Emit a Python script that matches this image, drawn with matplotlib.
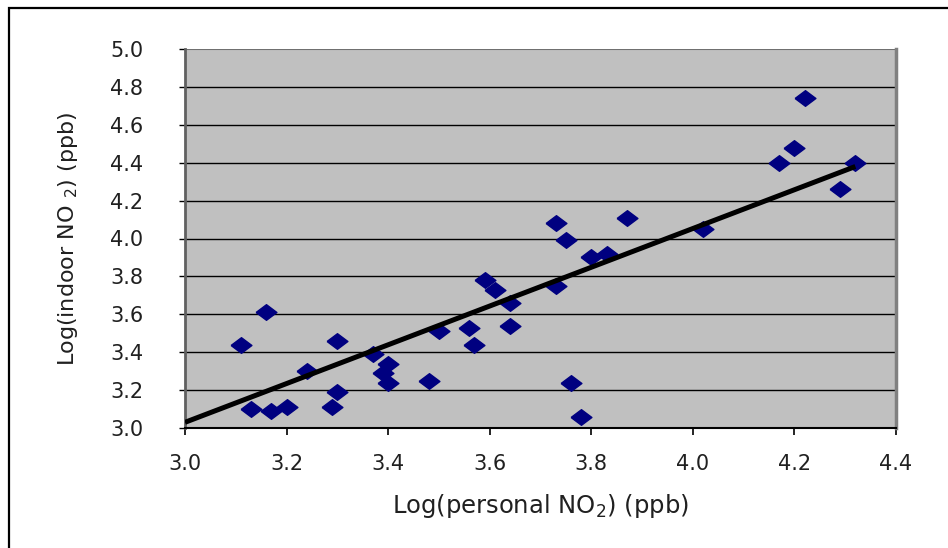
import numpy as np
import matplotlib.pyplot as plt
from matplotlib.patches import Rectangle

# values
personal = [3.11, 3.13, 3.16, 3.17, 3.20, 3.24, 3.30, 3.29, 3.30, 3.37,
            3.39, 3.40, 3.40, 3.48, 3.50, 3.56, 3.57, 3.59, 3.61, 3.64,
            3.64, 3.73, 3.73, 3.75, 3.76, 3.78, 3.80, 3.83, 3.87, 4.02,
            4.17, 4.20, 4.22, 4.29, 4.32]
indoor = [3.44, 3.10, 3.61, 3.09, 3.11, 3.30, 3.46, 3.11, 3.19, 3.39,
          3.29, 3.34, 3.24, 3.25, 3.51, 3.53, 3.44, 3.78, 3.73, 3.66,
          3.54, 4.08, 3.75, 3.99, 3.24, 3.06, 3.90, 3.92, 4.11, 4.05,
          4.40, 4.48, 4.74, 4.26, 4.40]
trend_x = [3.0, 4.32]
trend_y = [3.03, 4.38]

xticks = [3.0, 3.2, 3.4, 3.6, 3.8, 4.0, 4.2, 4.4]
yticks = [3.0, 3.2, 3.4, 3.6, 3.8, 4.0, 4.2, 4.4, 4.6, 4.8, 5.0]

plt.rcParams['font.family'] = ['DejaVu Sans']

fig = plt.figure(figsize=(9.48, 5.48), dpi=100)
fig.patches.append(Rectangle((9/948, -0.05), 1.0, 1 - 8/548 + 0.05,
                             transform=fig.transFigure, fill=False,
                             edgecolor='black', linewidth=1.6))
ax = fig.add_axes([185/948, 1 - 428/548, 711/948, 379/548])
ax.set_facecolor('#c0c0c0')

for y in yticks[1:-1]:
    ax.axhline(y, color='black', linewidth=1.0, zorder=1)
ax.axhline(5.0, color='#707070', linewidth=1.5, zorder=1)

diamond = [(-1, 0), (0, 0.75), (1, 0), (0, -0.75), (-1, 0)]
ax.plot(personal, indoor, linestyle='none', marker=diamond, markersize=15,
        color='#000080', zorder=3)
ax.plot(trend_x, trend_y, color='black', linewidth=3.6, zorder=4,
        solid_capstyle='butt')

ax.set_xlim(3.0, 4.4)
ax.set_ylim(3.0, 5.0)
ax.set_xticks(xticks)
ax.set_yticks(yticks)
ax.set_xticklabels(['%.1f' % v for v in xticks])
ax.set_yticklabels(['%.1f' % v for v in yticks])
ax.tick_params(axis='x', direction='out', length=5, width=1.2, pad=14,
               labelsize=15, color='black', labelcolor='#202020')
ax.tick_params(axis='y', direction='out', length=4, width=1.0, pad=26,
               labelsize=15, color='black', labelcolor='#202020')

ax.spines['left'].set_color('#606060')
ax.spines['left'].set_linewidth(2)
ax.spines['bottom'].set_color('black')
ax.spines['bottom'].set_linewidth(1.5)
ax.spines['top'].set_visible(False)
ax.spines['right'].set_color('#808080')
ax.spines['right'].set_linewidth(2.5)

ax.set_xlabel('Log(personal NO$_2$) (ppb)', fontsize=17.5, labelpad=13,
              color='#202020')
ax.set_ylabel('Log(indoor NO $_2$) (ppb)', fontsize=16, labelpad=22,
              color='#202020')

plt.savefig('out.png', dpi=100)
